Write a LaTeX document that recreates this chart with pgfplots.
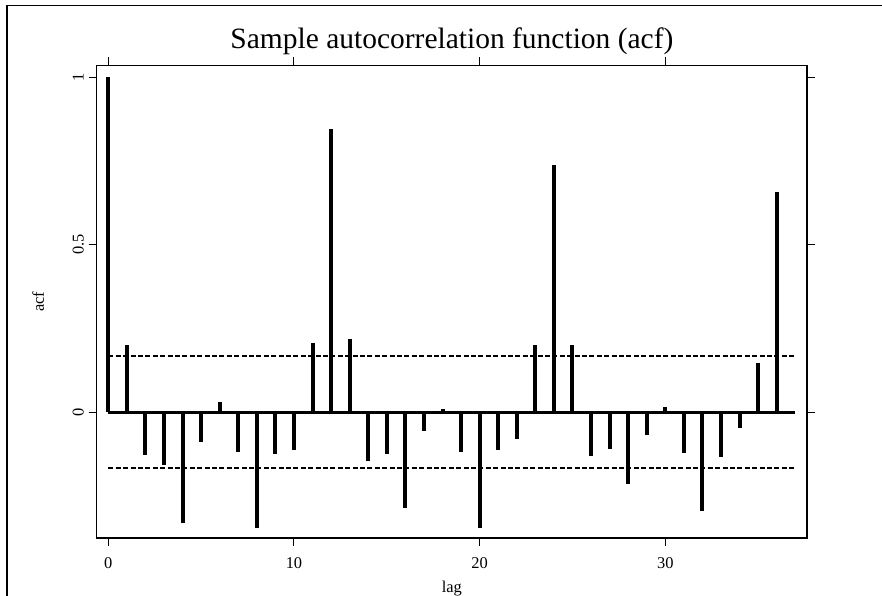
\documentclass[border=0pt]{standalone}
\usepackage{fontspec}
\setmainfont{Liberation Serif}
\usepackage{pgfplots}
\pgfplotsset{compat=1.18}
\newcommand\tickfont{\fontsize{16.5}{16.5}\selectfont}
\newcommand\titlefont{\fontsize{29.6}{30}\selectfont}

% sample acf by lag, with the +/- 2/sqrt(n) band
\pgfplotstableread{
lag acf
0 1.000
1 0.199
2 -0.127
3 -0.158
4 -0.332
5 -0.088
6 0.030
7 -0.118
8 -0.345
9 -0.124
10 -0.114
11 0.205
12 0.845
13 0.217
14 -0.146
15 -0.124
16 -0.287
17 -0.057
18 0.010
19 -0.120
20 -0.345
21 -0.114
22 -0.080
23 0.199
24 0.737
25 0.200
26 -0.130
27 -0.110
28 -0.215
29 -0.070
30 0.014
31 -0.123
32 -0.295
33 -0.133
34 -0.049
35 0.147
36 0.658
}\acftab

\begin{document}
\begin{tikzpicture}
\useasboundingbox (0,0) rectangle (882bp,596bp);
\draw[line width=1.4bp] (7bp,0) -- (7bp,590.3bp) -- (882bp,590.3bp);
\node[anchor=base, font=\titlefont] at (451.9bp,547bp)
  {Sample autocorrelation function (acf)};
\begin{axis}[
  at={(96.7bp,58bp)}, anchor=south west,
  scale only axis,
  width=710.3bp, height=472.7bp,
  xmin=-0.625, xmax=37.63,
  ymin=-0.376, ymax=1.035,
  xtick={0,10,20,30},
  ytick={0,0.5,1},
  tick align=outside,
  major tick length=8bp,
  tick style={black, line width=1bp},
  axis line style={line width=1.3bp},
  xticklabel={\tickfont\pgfmathprintnumber[assume math mode=true]{\tick}},
  yticklabel={\tickfont\pgfmathprintnumber[assume math mode=true]{\tick}},
  xticklabel style={anchor=base, yshift=-22.5bp},
  yticklabel style={xshift=-5bp, rotate=90, anchor=base},
  xlabel={lag}, ylabel={acf},
  every axis x label/.style={font=\tickfont, at={(axis description cs:0.5,0)}, anchor=base, yshift=-54bp},
  every axis y label/.style={font=\tickfont, at={(axis description cs:0,0.5)}, xshift=-52.9bp, rotate=90, anchor=base},
  clip=false,
]
  \addplot[ycomb, no marks, line width=4bp, black] table[x=lag, y=acf] {\acftab};
  \addplot[no marks, line width=3bp, black] coordinates {(0,0) (37,0)};
  \addplot[no marks, line width=2.6bp, black, dash pattern=on 5bp off 2.4bp] coordinates {(0,0.1667) (37,0.1667)};
  \addplot[no marks, line width=2.6bp, black, dash pattern=on 5bp off 2.4bp] coordinates {(0,-0.1667) (37,-0.1667)};
\end{axis}
\end{tikzpicture}
\end{document}
